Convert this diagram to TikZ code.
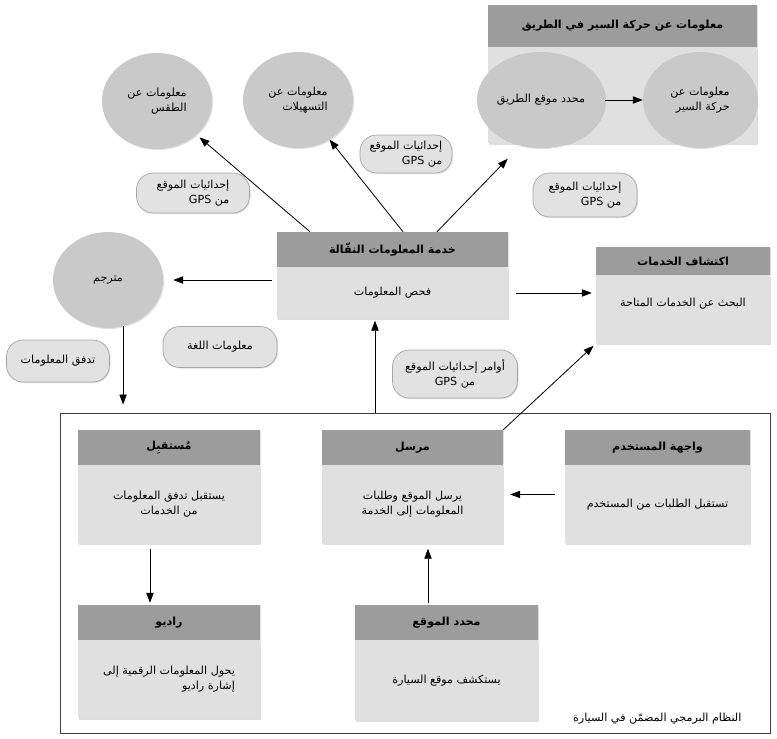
\documentclass[tikz,border=0pt]{standalone}
\usepackage{fontspec}
\setmainfont{DejaVu Sans}
\newfontfamily\arabicfont[Script=Arabic]{DejaVu Sans}
\usepackage{tikz}
\usetikzlibrary{arrows.meta,positioning,shapes.geometric,shadows}
\TeXXeTstate=1
\definecolor{hdrgray}{RGB}{156,156,156}
\definecolor{bodygray}{RGB}{224,224,224}
\definecolor{ellgray}{RGB}{201,201,201}
\definecolor{pillgray}{RGB}{226,226,226}
\definecolor{pillline}{RGB}{165,165,165}
\newlength\unitpx
\setlength\unitpx{0.3mm}
\newcommand\rtl[1]{\beginR#1\endR}

\begin{document}
\begin{tikzpicture}[x=0.3mm, y=-0.3mm,
    shadowed/.style={drop shadow={opacity=0.25, shadow xshift=0.9pt, shadow yshift=-0.9pt}},
    hdr/.style={rectangle, fill=hdrgray, minimum height=35\unitpx, inner sep=2pt, shadowed,
                font=\arabicfont\bfseries\fontsize{9.5}{11.5}\selectfont},
    body/.style={rectangle, fill=bodygray, minimum height=78\unitpx, inner sep=2pt, align=center, shadowed,
                 font=\arabicfont\fontsize{9.5}{13}\selectfont},
    bubble/.style={ellipse, fill=ellgray, minimum width=110\unitpx, minimum height=96\unitpx, inner sep=1pt,
                   align=right, shadowed, font=\arabicfont\fontsize{9.5}{13}\selectfont},
    tag/.style={rectangle, rounded corners=5mm, fill=pillgray, draw=pillline, line width=0.6pt, align=right,
                shadowed, font=\arabicfont\fontsize{9.5}{13}\selectfont},
    arr/.style={-{Triangle[length=3mm, width=2.2mm]}, line width=0.7pt}
]
\useasboundingbox (0,0) rectangle (777,738);

\node[rectangle, draw=black!75, line width=0.8pt, minimum width=710\unitpx, minimum height=320\unitpx] (sys) at (415,573) {};
\node[font=\arabicfont\fontsize{9.5}{11}\selectfont, anchor=south east] (syslbl)
    at ([xshift=-25\unitpx, yshift=5\unitpx]sys.south east) {\rtl{النظام البرمجي المضمّن في السيارة}};

\node[hdr, minimum width=269\unitpx, minimum height=42\unitpx] (roadhdr) at (622.5,26) {\rtl{معلومات عن حركة السير في الطريق}};
\node[body, minimum width=269\unitpx, minimum height=96\unitpx, below=0pt of roadhdr] (roadbody) {};
\node[bubble, minimum width=112\unitpx] (roadpos) at (541,100) {\rtl{محدد موقع الطريق}};
\node[bubble, minimum width=114\unitpx] (traffic) at (700,100) {\rtl{معلومات عن}\\\rtl{حركة السير}};

\node[bubble] (weather) at (157,101) {\rtl{معلومات عن}\\\rtl{الطقس}};
\node[bubble] (facil) at (298,100) {\rtl{معلومات عن}\\\rtl{التسهيلات}};
\node[bubble] (transl) at (108,280) {\rtl{مترجم}};

\node[hdr, minimum width=231\unitpx] (svchdr) at (392.5,249.5) {\rtl{خدمة المعلومات النقّالة}};
\node[body, minimum width=231\unitpx, minimum height=51\unitpx, below=0pt of svchdr] (svcbody) {\rtl{فحص المعلومات}};
\node[hdr, minimum width=174\unitpx, minimum height=28\unitpx] (dischdr) at (683,261) {\rtl{اكتشاف الخدمات}};
\node[body, minimum width=174\unitpx, minimum height=68\unitpx, text depth=4.5mm, below=0pt of dischdr] (discbody) {\rtl{البحث عن الخدمات المتاحة}};

\node[hdr, minimum width=182\unitpx] (recvhdr) at (169,447.5) {\rtl{مُستقبِل}};
\node[body, minimum width=182\unitpx, below=0pt of recvhdr] (recvbody) {\rtl{يستقبل تدفق المعلومات}\\\rtl{من الخدمات}};
\node[hdr, minimum width=181\unitpx] (sendhdr) at (412.5,447.5) {\rtl{مرسل}};
\node[body, minimum width=181\unitpx, below=0pt of sendhdr] (sendbody) {\rtl{يرسل الموقع وطلبات}\\\rtl{المعلومات إلى الخدمة}};
\node[hdr, minimum width=185\unitpx] (uihdr) at (657.5,447.5) {\rtl{واجهة المستخدم}};
\node[body, minimum width=185\unitpx, below=0pt of uihdr] (uibody) {\rtl{تستقبل الطلبات من المستخدم}};
\node[hdr, minimum width=182\unitpx] (radiohdr) at (169,622.5) {\rtl{راديو}};
\node[body, minimum width=182\unitpx, align=right, below=0pt of radiohdr] (radiobody) {\rtl{يحول المعلومات الرقمية إلى}\\\rtl{إشارة راديو}};
\node[hdr, minimum width=183\unitpx] (lochdr) at (446.5,622.5) {\rtl{محدد الموقع}};
\node[body, minimum width=183\unitpx, minimum height=80\unitpx, below=0pt of lochdr] (locbody) {\rtl{يستكشف موقع السيارة}};

\node[tag, minimum width=113\unitpx, minimum height=40\unitpx] (gpsw) at (193,193) {\rtl{إحدائيات الموقع}\\\rtl{من GPS}};
\node[tag, minimum width=92\unitpx, minimum height=38\unitpx] (gpsf) at (406,154) {\rtl{إحدائيات الموقع}\\\rtl{من GPS}};
\node[tag, minimum width=104\unitpx, minimum height=44\unitpx] (gpsr) at (585,195) {\rtl{إحدائيات الموقع}\\\rtl{من GPS}};
\node[tag, minimum width=114\unitpx, minimum height=41\unitpx] (langtag) at (220,347) {\rtl{معلومات اللغة}};
\node[tag, minimum width=103\unitpx, minimum height=42\unitpx] (flowtag) at (58,361) {\rtl{تدفق المعلومات}};
\node[tag, minimum width=125\unitpx, minimum height=48\unitpx, align=center] (cmdtag) at (455,374) {\rtl{أوامر إحدائيات الموقع}\\\rtl{من GPS}};

\coordinate (svcin) at ([xshift=-17.5\unitpx]svcbody.south);
\coordinate (uiout) at ([yshift=10\unitpx]uibody.west);
\coordinate (recvout) at ([xshift=-19\unitpx]recvbody.south);
\coordinate (locout) at ([xshift=-18.5\unitpx]lochdr.north);

\draw[arr] (roadpos) -- (traffic);
\draw[arr, shorten >=4\unitpx] ([xshift=-82.5\unitpx]svchdr.north) -- (weather);
\draw[arr] ([xshift=10.5\unitpx]svchdr.north) -- (facil);
\draw[arr] ([xshift=44.5\unitpx]svchdr.north) -- ([xshift=20\unitpx, yshift=-15\unitpx]roadbody.south west);
\draw[arr, shorten <=5\unitpx, shorten >=10\unitpx] (svcbody.west |- transl) -- (transl);
\draw[arr, shorten <=8\unitpx, shorten >=4\unitpx] (svcbody.east) -- (svcbody.east -| discbody.west);
\draw[arr, shorten >=3\unitpx] (sendhdr.north east) -- (discbody.south west);
\draw[arr, shorten >=8\unitpx] (transl.-72) -- (transl.-72 |- sys.north);
\draw[arr, shorten >=2\unitpx] (svcin |- sys.north) -- (svcin);
\draw[arr, shorten <=10\unitpx, shorten >=7\unitpx] (uiout) -- (uiout -| sendbody.east);
\draw[arr, shorten <=5\unitpx, shorten >=2\unitpx] (recvout) -- (recvout |- radiohdr.north);
\draw[arr, shorten <=2\unitpx, shorten >=5\unitpx] (locout) -- (locout |- sendbody.south);
\end{tikzpicture}
\end{document}
